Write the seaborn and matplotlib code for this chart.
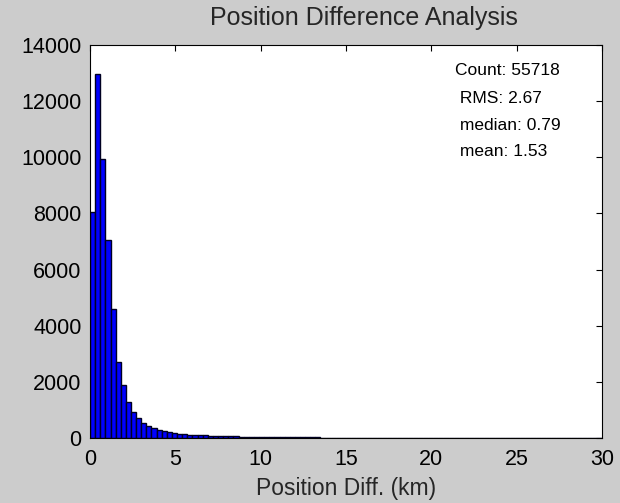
import numpy as np
import pandas as pd
import matplotlib
matplotlib.use("Agg")
import matplotlib.pyplot as plt
import seaborn as sns

# Histogram of position differences: 100 bins of 0.3 km over 0-30 km
bin_width = 0.3
bin_range = (0, 30)
bin_counts = [
    8050, 12950, 9930, 7050, 4580, 2700, 1880, 1290, 930, 700, 520, 430,
    340, 280, 235, 205, 180, 158, 140, 125, 112, 100, 92, 85, 78, 72, 66,
    60, 55, 50, 46, 42, 40, 37, 34,
    32, 30, 28, 27, 25, 24, 22, 21, 20, 19,
    18, 17, 16, 15, 14, 13, 12, 12, 11, 10,
    9, 9, 8, 8, 7, 7, 6, 6, 6, 5,
    5, 5, 4, 4, 4, 4, 3, 3, 3, 3,
    3, 3, 2, 2, 2, 2, 2, 2, 2, 2,
    1, 1, 1, 1, 1, 1, 1, 1, 1, 1,
    1, 1, 1, 1, 1,
]
bin_centers = bin_range[0] + bin_width * (np.arange(len(bin_counts)) + 0.5)

stats_lines = ["Count: 55718", " RMS: 2.67", " median: 0.79", " mean: 1.53"]
x_ticks = [0, 5, 10, 15, 20, 25, 30]
y_ticks = [0, 2000, 4000, 6000, 8000, 10000, 12000, 14000]

hist_df = pd.DataFrame({"diff_km": bin_centers, "count": bin_counts})

sns.set_style("white")
plt.rcParams["font.family"] = ["Liberation Sans", "DejaVu Sans"]

fig = plt.figure(figsize=(6.2, 5.03), dpi=100, facecolor="#cccccc")
ax = fig.add_axes([0.1452, 0.1292, 0.826, 0.7813])
ax.set_facecolor("white")

sns.histplot(data=hist_df, x="diff_km", weights="count",
             binwidth=bin_width, binrange=bin_range, ax=ax,
             color="#0000ff", edgecolor="#000022", linewidth=1.0, alpha=1.0)

ax.set_xlim(0, 30)
ax.set_ylim(0, 14000)
ax.set_xticks(x_ticks)
ax.set_yticks(y_ticks)
ax.tick_params(direction="in", length=4, width=0.8, top=True, right=True,
               labelsize=15.5, colors="black")
ax.tick_params(axis="x", pad=8)
ax.tick_params(axis="y", pad=6)
for side in ax.spines.values():
    side.set_visible(True)
    side.set_color("black")
    side.set_linewidth(0.8)

ax.set_xlabel("Position Diff. (km)", fontsize=16.5, labelpad=5)
ax.set_ylabel("")
ax.set_title("Position Difference Analysis", fontsize=18, pad=14.5, x=0.535)

y_pos = [0.936, 0.863, 0.794, 0.728]
for line, yp in zip(stats_lines, y_pos):
    ax.text(0.713, yp, line, transform=ax.transAxes, fontsize=12.5,
            va="center", ha="left", color="black")

fig.savefig("out.png", dpi=100, facecolor=fig.get_facecolor())
